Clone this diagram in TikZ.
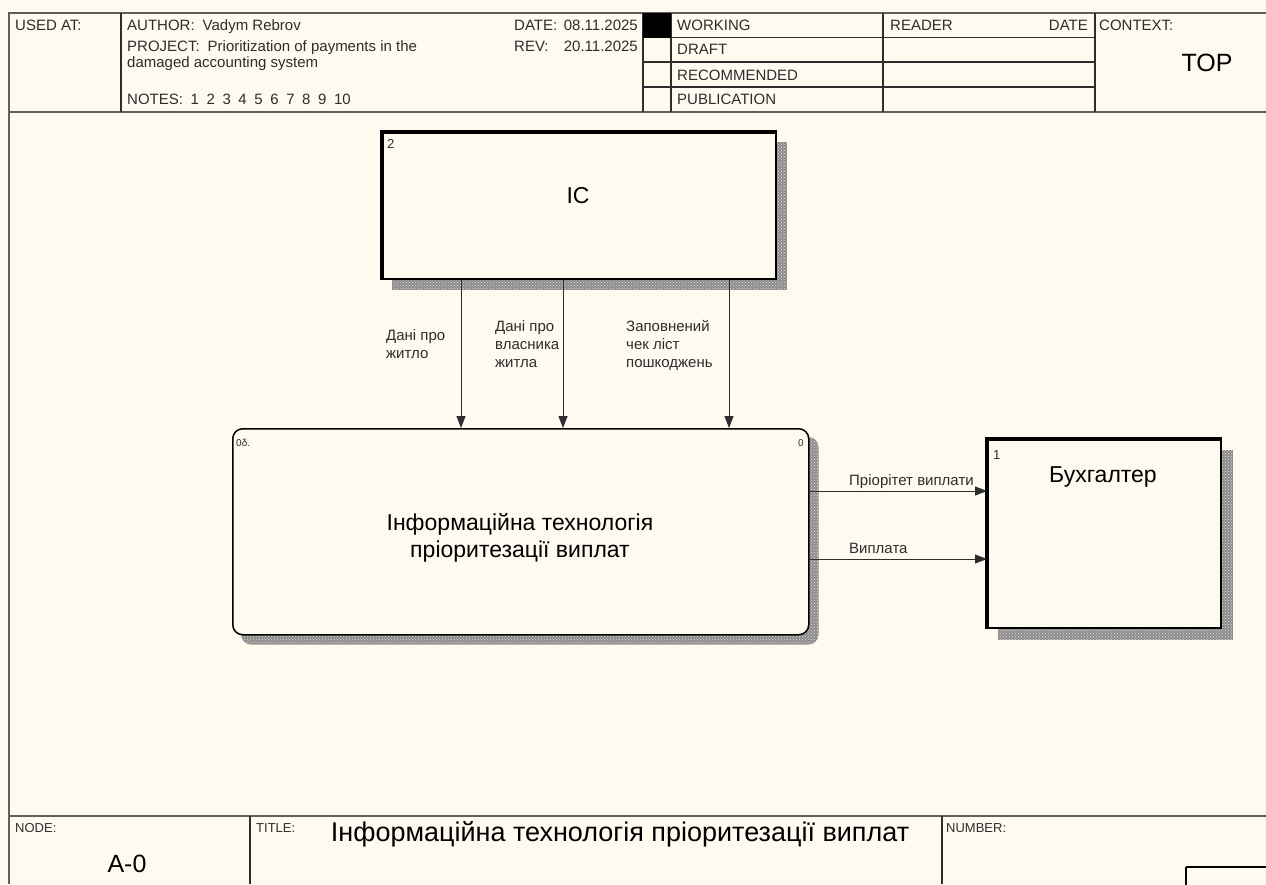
\documentclass[tikz,border=0pt]{standalone}
\usepackage{fontspec}
\setmainfont{Liberation Sans}
\usetikzlibrary{arrows.meta,patterns,backgrounds}
\definecolor{bg}{RGB}{255,250,240}
\definecolor{framec}{RGB}{95,95,95}
\definecolor{ln}{RGB}{45,45,45}
\newcommand\nsp{\hspace{7.6pt}}
\begin{document}
\begin{tikzpicture}[x=1pt,y=-1pt,
  hdr/.style={font=\fontsize{15}{17}\selectfont, anchor=base west, inner sep=0, text=ln},
  hdre/.style={hdr, anchor=base east},
  lbl/.style={font=\fontsize{15}{18}\selectfont, align=left, anchor=north west, inner sep=0, text=ln},
  flbl/.style={font=\fontsize{15}{18}\selectfont, anchor=base west, inner sep=0, text=ln},
  big/.style={font=\fontsize{23}{27}\selectfont, inner sep=0, text=black},
  numl/.style={font=\fontsize{13}{15}\selectfont, anchor=base west, inner sep=0, text=ln},
  tiny/.style={font=\fontsize{10}{12}\selectfont, inner sep=0, text=ln},
  boxn/.style={draw=black, line width=1.5, fill=bg, anchor=north west, inner sep=0},
  shadowfill/.style={fill=black!45, postaction={pattern=crosshatch dots, pattern color=bg!80!gray}},
  flow/.style={draw=ln, line width=1, -{Triangle[length=12pt,width=9pt]}},
  frm/.style={draw=framec, line width=1.5},
  grid/.style={draw=ln, line width=1.2},
  ]
\useasboundingbox (0,0) rectangle (1266,884);

% ---------- frame ----------
\draw[frm] (1266,13) -- (9,13) -- (9,884);
\draw[frm] (9,112) -- (1266,112);
\draw[frm] (9,816) -- (1266,816);
\foreach \xx in {121,643,671,883,1095} \draw[grid] (\xx,13) -- (\xx,112);
\foreach \yy in {37.5,62,87} \draw[grid] (643,\yy) -- (1095,\yy);
\fill[black] (643,13) rectangle (671,37.5);
\draw[grid] (250,816) -- (250,884);
\draw[grid] (942,816) -- (942,884);
\draw[line width=1.5] (1186,867) -- (1186,890) (1186,867) -- (1270,867);

% ---------- header texts ----------
\node[hdr] (usedat) at (15,30) {USED AT:};
\node[hdr] (author) at (127,30) {AUTHOR:\hspace{8pt}Vadym Rebrov};
\node[hdr] (project) at (127,51) {PROJECT:\hspace{8pt}Prioritization of payments in the};
\node[hdr] (project2) at (127,67) {damaged accounting system};
\node[hdr] (notes) at (127,104) {NOTES:\nsp 1\nsp 2\nsp 3\nsp 4\nsp 5\nsp 6\nsp 7\nsp 8\nsp 9\nsp 10};
\node[hdr] (datel) at (514,30) {DATE:};
\node[hdre] (datev) at (638,30) {08.11.2025};
\node[hdr] (revl) at (514,51) {REV:};
\node[hdre] (revv) at (638,51) {20.11.2025};
\node[hdr] (working) at (677,30) {WORKING};
\node[hdr] (draft) at (677,54) {DRAFT};
\node[hdr] (recom) at (677,80) {RECOMMENDED};
\node[hdr] (publ) at (677,104) {PUBLICATION};
\node[hdr] (reader) at (890,30) {READER};
\node[hdre] (rdate) at (1088,30) {DATE};
\node[hdr] (context) at (1099,30) {CONTEXT:};
\node[font=\fontsize{25}{28}\selectfont, inner sep=0, text=black] (top) at (1207,63) {TOP};

% ---------- footer texts ----------
\node[hdr, font=\fontsize{13}{15}\selectfont] (nodel) at (15,832) {NODE:};
\node[hdr, font=\fontsize{13}{15}\selectfont] (titlel) at (256,832) {TITLE:};
\node[hdr, font=\fontsize{13}{15}\selectfont] (numberl) at (946,832) {NUMBER:};
\node[font=\fontsize{25}{28}\selectfont, inner sep=0] (nodev) at (127,864) {A-0};
\node[font=\fontsize{27}{31}\selectfont, inner sep=0] (titlev) at (620,834) {Інформаційна технологія пріоритезації виплат};

% ---------- boxes ----------
\node[boxn, minimum width=393, minimum height=146] (ic) at (382,132) {};
\node[boxn, rounded corners=10, minimum width=576, minimum height=206] (main) at (232,428) {};
\node[boxn, minimum width=233, minimum height=188] (buh) at (987,439) {};

\draw[line width=4] (ic.south west) -- (ic.north west) -- (ic.north east);
\draw[line width=4] (buh.south west) -- (buh.north west) -- (buh.north east);

\begin{scope}[on background layer]
  \fill[bg] (0,0) rectangle (1266,884);
  \fill[shadowfill] ([shift={(10,10)}]ic.north west) rectangle ([shift={(10,10)}]ic.south east);
  \fill[shadowfill, rounded corners=10] ([shift={(9,9)}]main.north west) rectangle ([shift={(9,9)}]main.south east);
  \fill[shadowfill] ([shift={(11,11)}]buh.north west) rectangle ([shift={(11,11)}]buh.south east);
\end{scope}

\node[big] (ictext) at (578,196) {IC};
\node[big, align=center, font=\fontsize{23}{27}\selectfont] (maintext) at (520,538) {Інформаційна технологія\\пріоритезації виплат};
\node[big] (buhtext) at (1103,477) {Бухгалтер};

\node[numl] (icnum) at (387,148) {2};
\node[numl] (buhnum) at (993,459) {1};
\node[tiny, anchor=base west] (mainnum) at (236,446) {0δ.};
\node[tiny, anchor=base east] (mainnum2) at (804,446) {0};

% ---------- connectors ----------
\coordinate (c1) at (461,0);
\coordinate (c2) at (563,0);
\coordinate (c3) at (729,0);
\coordinate (o1) at (0,491);
\coordinate (o2) at (0,559);
\draw[flow] (ic.south -| c1) -- (main.north -| c1);
\draw[flow] (ic.south -| c2) -- (main.north -| c2);
\draw[flow] (ic.south -| c3) -- (main.north -| c3);
\draw[flow] (main.east |- o1) -- (buh.west |- o1);
\draw[flow] (main.east |- o2) -- (buh.west |- o2);

\node[lbl] (l1) at (386,329) {Дані про\\житло};
\node[lbl] (l2) at (495,320) {Дані про\\власника\\житла};
\node[lbl] (l3) at (626,320) {Заповнений\\чек ліст\\пошкоджень};
\node[flbl] (l4) at (849,485) {Пріорітет виплати};
\node[flbl] (l5) at (849,553) {Виплата};
\end{tikzpicture}
\end{document}
